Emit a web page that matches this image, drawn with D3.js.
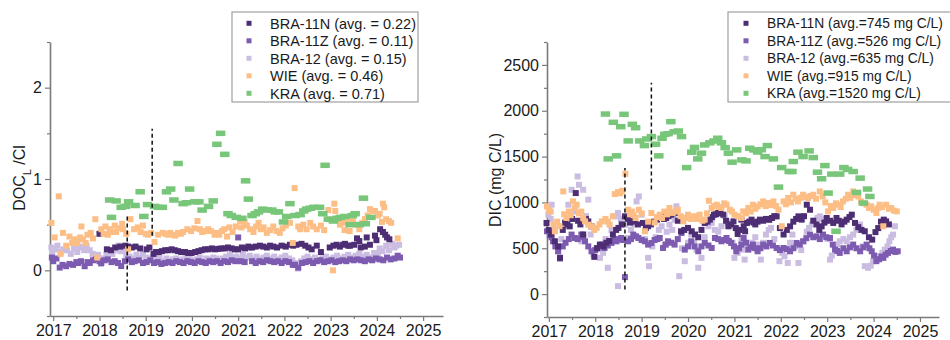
<!DOCTYPE html>
<html>
<head>
<meta charset="utf-8">
<script src="https://cdn.jsdelivr.net/npm/d3@7"></script>
<style>
  body { margin: 0; background: #fff; }
  svg { display: block; }
  text { font-family: Arial, "Liberation Sans", sans-serif; fill: #1a1a1a; }
</style>
</head>
<body>
<svg id="chart" width="950" height="340"></svg>
<script>
// ---- series names, colours, legend texts, ticks ----
const seriesNames = ["BRA-11N", "BRA-11Z", "BRA-12", "WIE", "KRA"];
const seriesColors = ["#4d2d73", "#7c5bb0", "#cbbde2", "#fdbe85", "#78c679"];
const docLegendLabels = ["BRA-11N (avg. = 0.22)", "BRA-11Z (avg. = 0.11)", "BRA-12 (avg. = 0.15)", "WIE (avg. = 0.46)", "KRA (avg. = 0.71)"];
const dicLegendLabels = ["BRA-11N (avg.=745 mg C/L)", "BRA-11Z (avg.=526 mg C/L)", "BRA-12 (avg.=635 mg C/L)", "WIE (avg.=915 mg C/L)", "KRA (avg.=1520 mg C/L)"];
const yearTicks = [2017, 2018, 2019, 2020, 2021, 2022, 2023, 2024, 2025];
const docTicks = [0, 1, 2];
const dicTicks = [0, 500, 1000, 1500, 2000, 2500];

// ---- DOC_L / Cl ratio, [decimal year, value] ----
const docN = [[2018.0,0.40],[2018.16,0.23],[2018.25,0.22],[2018.34,0.25],[2018.45,0.26],[2018.56,0.27],[2018.62,0.26],[2018.70,0.25],[2018.78,0.26],[2018.88,0.24],[2019.02,0.23],[2019.08,0.25],[2019.17,0.18],[2019.22,0.20],[2019.28,0.20],[2019.35,0.21],[2019.42,0.22],[2019.49,0.22],[2019.56,0.23],[2019.63,0.22],[2019.70,0.21],[2019.77,0.20],[2019.85,0.20],[2019.92,0.19],[2019.99,0.19],[2020.07,0.20],[2020.14,0.21],[2020.21,0.22],[2020.28,0.23],[2020.36,0.23],[2020.43,0.24],[2020.50,0.23],[2020.57,0.235],[2020.64,0.24],[2020.71,0.24],[2020.78,0.25],[2020.86,0.24],[2020.93,0.23],[2021.0,0.23],[2021.08,0.25],[2021.15,0.24],[2021.22,0.26],[2021.30,0.25],[2021.38,0.26],[2021.47,0.27],[2021.54,0.26],[2021.62,0.25],[2021.69,0.27],[2021.76,0.26],[2021.84,0.25],[2021.94,0.27],[2022.03,0.26],[2022.12,0.28],[2022.19,0.27],[2022.26,0.28],[2022.37,0.29],[2022.45,0.27],[2022.52,0.25],[2022.59,0.23],[2022.70,0.27],[2022.79,0.20],[2022.98,0.25],[2023.06,0.27],[2023.13,0.28],[2023.20,0.26],[2023.27,0.28],[2023.31,0.29],[2023.38,0.27],[2023.42,0.27],[2023.51,0.28],[2023.57,0.35],[2023.62,0.32],[2023.65,0.25],[2023.74,0.26],[2023.78,0.36],[2023.85,0.28],[2023.96,0.38],[2023.99,0.33],[2024.07,0.45],[2024.13,0.42],[2024.18,0.39],[2024.22,0.36],[2024.27,0.34]];
const docZ = [[2016.97,0.14],[2017.0,0.10],[2017.07,0.13],[2017.14,0.03],[2017.2,0.06],[2017.28,0.045],[2017.35,0.07],[2017.43,0.06],[2017.5,0.09],[2017.54,0.08],[2017.6,0.10],[2017.68,0.045],[2017.74,0.09],[2017.79,0.08],[2017.86,0.11],[2017.93,0.12],[2018.0,0.10],[2018.04,0.08],[2018.11,0.11],[2018.18,0.12],[2018.26,0.09],[2018.33,0.10],[2018.4,0.08],[2018.47,0.047],[2018.55,0.10],[2018.62,0.12],[2018.7,0.09],[2018.76,0.10],[2018.85,0.11],[2018.94,0.08],[2019.02,0.09],[2019.1,0.11],[2019.18,0.08],[2019.26,0.09],[2019.34,0.07],[2019.42,0.08],[2019.5,0.09],[2019.58,0.08],[2019.66,0.10],[2019.74,0.09],[2019.82,0.08],[2019.9,0.10],[2019.98,0.09],[2020.06,0.08],[2020.14,0.10],[2020.22,0.09],[2020.3,0.08],[2020.38,0.10],[2020.46,0.09],[2020.54,0.10],[2020.62,0.08],[2020.7,0.10],[2020.78,0.09],[2020.86,0.11],[2020.94,0.10],[2021.0,0.36],[2021.06,0.10],[2021.14,0.09],[2021.24,0.25],[2021.3,0.10],[2021.38,0.08],[2021.46,0.10],[2021.54,0.09],[2021.62,0.11],[2021.7,0.10],[2021.78,0.09],[2021.86,0.10],[2021.94,0.08],[2022.02,0.10],[2022.1,0.09],[2022.18,0.06],[2022.23,0.06],[2022.3,0.03],[2022.38,0.08],[2022.46,0.09],[2022.54,0.10],[2022.62,0.08],[2022.7,0.10],[2022.78,0.11],[2022.86,0.09],[2022.94,0.10],[2023.02,0.11],[2023.1,0.09],[2023.18,0.10],[2023.26,0.11],[2023.34,0.10],[2023.42,0.12],[2023.5,0.11],[2023.58,0.12],[2023.66,0.11],[2023.74,0.10],[2023.82,0.12],[2023.9,0.11],[2023.98,0.13],[2024.06,0.12],[2024.14,0.11],[2024.22,0.14],[2024.3,0.12],[2024.38,0.13],[2024.45,0.16],[2024.5,0.14]];
const docB12 = [[2016.96,0.25],[2016.98,0.20],[2017.05,0.23],[2017.09,0.27],[2017.16,0.20],[2017.22,0.23],[2017.30,0.22],[2017.38,0.18],[2017.45,0.24],[2017.52,0.20],[2017.57,0.26],[2017.61,0.25],[2017.67,0.22],[2017.72,0.27],[2017.79,0.22],[2017.85,0.18],[2017.9,0.13],[2017.97,0.17],[2018.03,0.07],[2018.08,0.13],[2018.15,0.17],[2018.22,0.20],[2018.28,0.18],[2018.33,0.22],[2018.41,0.27],[2018.46,0.21],[2018.52,0.22],[2018.58,0.17],[2018.65,0.15],[2018.72,0.13],[2018.8,0.17],[2018.87,0.14],[2018.94,0.18],[2019.01,0.14],[2019.08,0.13],[2019.16,0.15],[2019.23,0.12],[2019.30,0.14],[2019.37,0.10],[2019.45,0.13],[2019.52,0.10],[2019.59,0.12],[2019.66,0.13],[2019.74,0.11],[2019.81,0.12],[2019.88,0.14],[2019.95,0.13],[2020.02,0.11],[2020.1,0.12],[2020.17,0.14],[2020.24,0.10],[2020.31,0.13],[2020.38,0.12],[2020.46,0.14],[2020.53,0.13],[2020.6,0.11],[2020.67,0.13],[2020.74,0.15],[2020.82,0.17],[2020.89,0.14],[2020.96,0.15],[2021.03,0.13],[2021.1,0.17],[2021.17,0.14],[2021.25,0.16],[2021.32,0.13],[2021.4,0.15],[2021.47,0.12],[2021.55,0.14],[2021.62,0.16],[2021.7,0.13],[2021.78,0.15],[2021.86,0.12],[2021.94,0.14],[2022.02,0.16],[2022.1,0.13],[2022.17,0.11],[2022.24,0.08],[2022.29,0.02],[2022.36,0.10],[2022.43,0.13],[2022.5,0.15],[2022.58,0.12],[2022.66,0.14],[2022.74,0.11],[2022.82,0.13],[2022.9,0.15],[2022.98,0.12],[2023.06,0.14],[2023.14,0.16],[2023.22,0.13],[2023.3,0.15],[2023.38,0.17],[2023.46,0.14],[2023.54,0.16],[2023.62,0.18],[2023.7,0.15],[2023.78,0.17],[2023.86,0.14],[2023.94,0.19],[2024.02,0.18],[2024.06,0.24],[2024.12,0.21],[2024.2,0.27],[2024.26,0.22],[2024.33,0.29],[2024.38,0.25],[2024.42,0.27],[2024.48,0.28]];
const docWIE = [[2016.96,0.52],[2017.03,0.36],[2017.12,0.81],[2017.16,0.18],[2017.21,0.41],[2017.28,0.27],[2017.35,0.37],[2017.41,0.30],[2017.45,0.34],[2017.52,0.30],[2017.58,0.36],[2017.61,0.48],[2017.64,0.34],[2017.70,0.30],[2017.74,0.39],[2017.81,0.41],[2017.86,0.35],[2017.91,0.56],[2017.95,0.14],[2018.04,0.45],[2018.09,0.40],[2018.13,0.48],[2018.18,0.39],[2018.22,0.45],[2018.28,0.42],[2018.33,0.49],[2018.36,0.42],[2018.42,0.46],[2018.49,0.51],[2018.51,0.45],[2018.58,0.40],[2018.62,0.23],[2018.67,0.56],[2018.75,0.45],[2018.83,0.47],[2018.89,0.42],[2018.94,0.49],[2019.0,0.40],[2019.05,0.39],[2019.12,0.41],[2019.19,0.31],[2019.27,0.39],[2019.37,0.41],[2019.43,0.40],[2019.48,0.39],[2019.53,0.41],[2019.59,0.39],[2019.64,0.38],[2019.70,0.41],[2019.76,0.40],[2019.81,0.42],[2019.90,0.45],[2019.98,0.43],[2020.05,0.46],[2020.12,0.54],[2020.17,0.45],[2020.22,0.42],[2020.28,0.43],[2020.35,0.45],[2020.41,0.43],[2020.49,0.39],[2020.54,0.41],[2020.59,0.39],[2020.65,0.43],[2020.70,0.45],[2020.76,0.37],[2020.81,0.47],[2020.88,0.42],[2020.95,0.48],[2021.04,0.54],[2021.07,0.47],[2021.14,0.53],[2021.19,0.49],[2021.26,0.45],[2021.33,0.42],[2021.39,0.48],[2021.44,0.52],[2021.49,0.45],[2021.55,0.47],[2021.62,0.41],[2021.69,0.44],[2021.76,0.48],[2021.83,0.43],[2021.90,0.41],[2021.96,0.46],[2022.03,0.49],[2022.12,0.52],[2022.18,0.30],[2022.22,0.90],[2022.30,0.48],[2022.34,0.45],[2022.41,0.50],[2022.48,0.45],[2022.56,0.52],[2022.62,0.48],[2022.70,0.45],[2022.79,0.49],[2022.86,0.44],[2022.95,0.66],[2022.97,0.56],[2023.05,0.0],[2023.08,0.73],[2023.10,0.65],[2023.14,0.56],[2023.20,0.50],[2023.25,0.52],[2023.30,0.44],[2023.35,0.54],[2023.41,0.43],[2023.48,0.54],[2023.55,0.50],[2023.62,0.45],[2023.68,0.52],[2023.74,0.56],[2023.80,0.60],[2023.85,0.67],[2023.91,0.65],[2023.96,0.65],[2024.02,0.60],[2024.06,0.62],[2024.11,0.53],[2024.13,0.73],[2024.16,0.69],[2024.20,0.56],[2024.26,0.54],[2024.31,0.52],[2024.45,0.35]];
const docKRA = [[2018.22,0.77],[2018.26,0.58],[2018.36,0.76],[2018.47,0.69],[2018.56,0.70],[2018.63,0.75],[2018.77,0.71],[2018.88,0.86],[2018.96,0.59],[2019.04,0.72],[2019.19,0.70],[2019.28,0.69],[2019.36,0.69],[2019.45,0.86],[2019.54,0.89],[2019.61,0.77],[2019.70,1.17],[2019.81,0.73],[2019.88,0.74],[2019.95,0.89],[2020.06,0.75],[2020.15,0.75],[2020.22,0.66],[2020.36,0.70],[2020.46,0.76],[2020.54,1.38],[2020.62,1.50],[2020.71,1.27],[2020.78,0.62],[2020.85,0.60],[2020.96,0.58],[2021.08,0.57],[2021.16,0.98],[2021.22,0.78],[2021.30,0.60],[2021.37,0.62],[2021.44,0.64],[2021.53,0.67],[2021.63,0.66],[2021.73,0.66],[2021.80,0.64],[2021.87,0.64],[2021.98,0.53],[2022.05,0.59],[2022.12,0.73],[2022.23,0.60],[2022.34,0.61],[2022.42,0.65],[2022.48,0.67],[2022.56,0.68],[2022.64,0.69],[2022.76,0.69],[2022.83,0.62],[2022.88,1.15],[2022.95,0.56],[2023.06,0.54],[2023.14,0.57],[2023.21,0.58],[2023.31,0.59],[2023.42,0.50],[2023.47,0.60],[2023.53,0.62],[2023.62,0.50],[2023.71,0.79],[2023.75,0.51],[2023.87,0.58]];

// ---- DIC (mg C/L), [decimal year, value] ----
const dicN = [[2016.95,776],[2017.0,700],[2017.05,650],[2017.13,576],[2017.2,520],[2017.24,396],[2017.3,700],[2017.35,780],[2017.4,760],[2017.45,739],[2017.5,820],[2017.58,1102],[2017.63,800],[2017.68,760],[2017.74,650],[2017.8,820],[2017.85,793],[2017.92,739],[2017.98,406],[2018.04,500],[2018.1,540],[2018.18,520],[2018.24,560],[2018.3,580],[2018.38,650],[2018.45,700],[2018.5,722],[2018.57,760],[2018.64,848],[2018.7,820],[2018.75,780],[2018.8,800],[2018.85,790],[2018.92,760],[2019.03,776],[2019.09,720],[2019.14,740],[2019.2,760],[2019.27,790],[2019.33,812],[2019.38,830],[2019.43,848],[2019.48,820],[2019.53,830],[2019.58,850],[2019.64,866],[2019.68,880],[2019.72,885],[2019.78,800],[2019.85,685],[2019.92,700],[2020.0,722],[2020.08,685],[2020.15,650],[2020.22,620],[2020.29,700],[2020.36,776],[2020.42,790],[2020.47,812],[2020.52,840],[2020.56,866],[2020.6,870],[2020.65,885],[2020.7,880],[2020.76,866],[2020.82,800],[2020.87,740],[2020.93,760],[2020.98,793],[2021.03,720],[2021.07,656],[2021.11,700],[2021.15,812],[2021.2,740],[2021.23,685],[2021.27,776],[2021.32,790],[2021.37,812],[2021.42,780],[2021.45,760],[2021.5,790],[2021.55,812],[2021.62,800],[2021.68,820],[2021.75,810],[2021.81,830],[2021.86,850],[2021.91,848],[2021.98,720],[2022.06,650],[2022.13,700],[2022.2,739],[2022.27,790],[2022.33,820],[2022.38,848],[2022.45,812],[2022.5,850],[2022.56,975],[2022.63,920],[2022.7,800],[2022.77,760],[2022.83,700],[2022.88,739],[2022.94,780],[2022.99,830],[2023.06,800],[2023.13,776],[2023.2,830],[2023.25,800],[2023.31,760],[2023.37,790],[2023.42,812],[2023.48,840],[2023.53,866],[2023.6,776],[2023.67,730],[2023.74,700],[2023.81,685],[2023.9,620],[2023.97,594],[2024.04,676],[2024.1,720],[2024.16,790],[2024.22,812],[2024.27,793],[2024.33,760]];
const dicZ = [[2016.96,685],[2017.02,640],[2017.06,620],[2017.09,576],[2017.14,520],[2017.2,467],[2017.24,388],[2017.3,520],[2017.36,560],[2017.43,600],[2017.49,649],[2017.56,612],[2017.62,600],[2017.7,649],[2017.74,620],[2017.78,576],[2017.85,520],[2017.92,467],[2018.0,480],[2018.05,500],[2018.1,522],[2018.15,540],[2018.2,503],[2018.27,530],[2018.35,558],[2018.41,590],[2018.46,576],[2018.51,600],[2018.56,612],[2018.6,590],[2018.64,185],[2018.71,576],[2018.77,600],[2018.82,649],[2018.88,630],[2018.93,612],[2019.0,590],[2019.07,576],[2019.14,540],[2019.21,558],[2019.28,590],[2019.34,600],[2019.39,612],[2019.46,503],[2019.52,540],[2019.57,576],[2019.64,560],[2019.71,540],[2019.78,600],[2019.86,667],[2019.93,485],[2020.0,520],[2020.07,576],[2020.14,520],[2020.22,467],[2020.29,520],[2020.36,558],[2020.44,530],[2020.51,503],[2020.58,612],[2020.65,600],[2020.72,576],[2020.78,590],[2020.83,612],[2020.88,580],[2020.93,558],[2020.99,520],[2021.04,467],[2021.1,500],[2021.15,540],[2021.2,612],[2021.25,560],[2021.3,485],[2021.35,510],[2021.4,540],[2021.45,500],[2021.5,467],[2021.56,500],[2021.62,540],[2021.69,520],[2021.76,558],[2021.83,530],[2021.91,503],[2021.98,480],[2022.06,503],[2022.13,490],[2022.2,467],[2022.27,500],[2022.34,558],[2022.41,540],[2022.48,576],[2022.55,610],[2022.63,649],[2022.7,620],[2022.77,630],[2022.84,600],[2022.91,649],[2022.98,620],[2023.06,612],[2023.12,540],[2023.17,485],[2023.22,470],[2023.27,449],[2023.35,500],[2023.42,467],[2023.49,510],[2023.56,540],[2023.63,500],[2023.71,467],[2023.78,510],[2023.85,540],[2023.91,500],[2023.96,467],[2024.01,420],[2024.06,359],[2024.12,380],[2024.17,410],[2024.21,395],[2024.26,430],[2024.31,449],[2024.37,470],[2024.42,485],[2024.47,460],[2024.52,467]];
const dicB12 = [[2016.99,866],[2017.04,820],[2017.06,975],[2017.12,700],[2017.2,467],[2017.27,600],[2017.35,740],[2017.42,975],[2017.49,1138],[2017.55,900],[2017.62,1283],[2017.65,1192],[2017.7,576],[2017.74,1138],[2017.8,850],[2017.85,1030],[2017.9,650],[2017.96,431],[2018.03,503],[2018.1,395],[2018.17,450],[2018.22,600],[2018.27,287],[2018.35,700],[2018.42,848],[2018.49,885],[2018.49,87],[2018.55,820],[2018.64,757],[2018.71,612],[2018.77,700],[2018.84,760],[2018.89,1011],[2018.94,1065],[2019.0,866],[2019.07,600],[2019.14,395],[2019.16,305],[2019.23,520],[2019.3,620],[2019.37,700],[2019.43,740],[2019.5,540],[2019.54,680],[2019.6,758],[2019.66,700],[2019.71,812],[2019.75,957],[2019.81,195],[2019.87,500],[2019.93,359],[2020.0,560],[2020.07,649],[2020.13,560],[2020.18,485],[2020.22,287],[2020.29,395],[2020.36,620],[2020.44,740],[2020.51,776],[2020.58,700],[2020.65,680],[2020.72,740],[2020.79,850],[2020.85,780],[2020.9,740],[2020.96,560],[2021.0,395],[2021.07,450],[2021.15,594],[2021.18,485],[2021.22,376],[2021.3,500],[2021.38,560],[2021.45,620],[2021.52,540],[2021.57,376],[2021.62,560],[2021.68,649],[2021.74,700],[2021.79,722],[2021.86,600],[2021.92,500],[2021.97,359],[2022.03,450],[2022.08,413],[2022.15,340],[2022.2,560],[2022.25,649],[2022.31,520],[2022.38,340],[2022.44,480],[2022.5,576],[2022.56,680],[2022.61,722],[2022.67,760],[2022.73,800],[2022.79,830],[2022.84,848],[2022.9,820],[2022.95,793],[2023.01,600],[2023.06,376],[2023.1,420],[2023.17,503],[2023.22,540],[2023.27,576],[2023.35,600],[2023.42,576],[2023.49,620],[2023.56,649],[2023.63,700],[2023.71,758],[2023.76,520],[2023.81,305],[2023.88,287],[2023.94,310],[2023.99,359],[2024.06,380],[2024.13,413],[2024.19,450],[2024.24,485],[2024.3,520],[2024.34,576],[2024.38,620],[2024.42,649],[2024.46,740]];
const dicWIE = [[2016.96,957],[2017.0,920],[2017.04,900],[2017.10,758],[2017.13,685],[2017.18,790],[2017.23,740],[2017.31,1120],[2017.33,870],[2017.38,830],[2017.43,900],[2017.47,860],[2017.52,1011],[2017.56,940],[2017.6,975],[2017.65,880],[2017.7,900],[2017.74,830],[2017.78,793],[2017.85,758],[2017.92,740],[2017.98,700],[2018.03,722],[2018.09,760],[2018.14,793],[2018.22,820],[2018.27,790],[2018.31,758],[2018.38,850],[2018.42,1091],[2018.49,1113],[2018.54,1100],[2018.58,1127],[2018.65,1312],[2018.71,920],[2018.75,870],[2018.79,900],[2018.83,860],[2018.87,830],[2018.94,920],[2019.0,880],[2019.07,685],[2019.14,790],[2019.21,885],[2019.28,780],[2019.33,840],[2019.39,866],[2019.44,830],[2019.49,900],[2019.55,870],[2019.6,939],[2019.67,885],[2019.73,900],[2019.78,920],[2019.84,850],[2019.9,793],[2019.95,830],[2020.0,866],[2020.06,820],[2020.13,850],[2020.19,820],[2020.25,866],[2020.31,800],[2020.36,812],[2020.41,880],[2020.45,1018],[2020.51,939],[2020.56,960],[2020.62,975],[2020.67,950],[2020.72,939],[2020.78,990],[2020.83,975],[2020.9,920],[2020.95,900],[2021.0,866],[2021.08,850],[2021.15,830],[2021.19,902],[2021.25,880],[2021.3,939],[2021.35,900],[2021.4,975],[2021.45,930],[2021.5,957],[2021.56,980],[2021.62,1011],[2021.67,960],[2021.73,993],[2021.78,970],[2021.84,1011],[2021.9,960],[2021.95,920],[2022.02,740],[2022.06,1011],[2022.11,980],[2022.16,1048],[2022.22,1000],[2022.27,1084],[2022.32,1040],[2022.37,1011],[2022.43,1050],[2022.48,1084],[2022.54,1060],[2022.59,1048],[2022.64,1070],[2022.7,1084],[2022.76,1040],[2022.84,1120],[2022.9,1065],[2022.96,1000],[2023.02,902],[2023.08,960],[2023.13,939],[2023.19,990],[2023.24,975],[2023.29,950],[2023.34,1011],[2023.4,1040],[2023.45,1084],[2023.5,1050],[2023.56,1120],[2023.62,1080],[2023.67,1065],[2023.73,1010],[2023.79,990],[2023.85,975],[2023.9,940],[2023.95,957],[2024.0,920],[2024.06,885],[2024.1,940],[2024.13,975],[2024.18,950],[2024.21,740],[2024.27,975],[2024.33,930],[2024.38,939],[2024.44,910],[2024.5,902]];
const dicKRA = [[2018.22,1964],[2018.28,1475],[2018.39,1874],[2018.46,1508],[2018.55,1826],[2018.62,1961],[2018.71,1671],[2018.80,1852],[2018.87,1815],[2018.96,1671],[2019.06,1620],[2019.11,1692],[2019.21,1718],[2019.30,1635],[2019.37,1508],[2019.44,1700],[2019.50,1743],[2019.57,1750],[2019.63,1881],[2019.70,1770],[2019.79,1779],[2019.86,1718],[2019.97,1380],[2020.08,1548],[2020.14,1600],[2020.21,1475],[2020.29,1537],[2020.36,1627],[2020.47,1650],[2020.56,1670],[2020.64,1700],[2020.72,1650],[2020.80,1598],[2020.87,1537],[2020.95,1439],[2021.05,1573],[2021.16,1464],[2021.25,1453],[2021.33,1591],[2021.42,1573],[2021.50,1550],[2021.58,1575],[2021.66,1500],[2021.71,1620],[2021.84,1475],[2021.95,1167],[2022.02,1380],[2022.18,1337],[2022.24,1337],[2022.27,1446],[2022.37,1548],[2022.48,1500],[2022.61,1562],[2022.70,1489],[2022.79,1330],[2022.88,1258],[2022.95,1402],[2023.02,1102],[2023.10,1309],[2023.19,685],[2023.27,1309],[2023.36,1380],[2023.44,1360],[2023.56,1337],[2023.63,1109],[2023.71,1265],[2023.78,993],[2023.87,1146],[2023.92,1065]];

// ---- sampling-change markers: [year, from value, to value] ----
const docEventLines = [[2018.6, -0.22, 0.6], [2019.14, 0.38, 1.55]];
const dicEventLines = [[2018.64, 50, 1375], [2019.21, 1140, 2305]];

const svg = d3.select("#chart");
const axisColor = "#7a7a7a";

function drawPanel(cfg) {
  const g = svg.append("g");
  const x = d3.scaleLinear().domain(cfg.xDomain).range(cfg.xRange);
  const y = d3.scaleLinear().domain(cfg.yDomain).range(cfg.yRange);

  // minor ticks (half years / half steps)
  const xMinor = yearTicks.slice(0, -1).map(t => t + 0.5);
  g.append("g")
    .attr("transform", `translate(0,${cfg.yRange[0]})`)
    .call(d3.axisBottom(x).tickValues(xMinor).tickSize(3).tickFormat(""))
    .call(a => a.select(".domain").remove())
    .call(a => a.selectAll("line").attr("stroke", axisColor).attr("stroke-width", 1.2));
  g.append("g")
    .attr("transform", `translate(${cfg.xRange[0]},0)`)
    .call(d3.axisLeft(y).tickValues(cfg.yMinor).tickSize(3).tickFormat(""))
    .call(a => a.select(".domain").remove())
    .call(a => a.selectAll("line").attr("stroke", axisColor).attr("stroke-width", 1.2));

  // major axes
  const xAxis = g.append("g")
    .attr("transform", `translate(0,${cfg.yRange[0]})`)
    .call(d3.axisBottom(x).tickValues(yearTicks).tickSize(5).tickSizeOuter(0).tickPadding(4).tickFormat(d3.format("d")));
  const yAxis = g.append("g")
    .attr("transform", `translate(${cfg.xRange[0]},0)`)
    .call(d3.axisLeft(y).tickValues(cfg.yTicks).tickSize(5).tickSizeOuter(0).tickPadding(3).tickFormat(d3.format("d")));
  [xAxis, yAxis].forEach(a => {
    a.select(".domain").attr("stroke", axisColor).attr("stroke-width", 1.6);
    a.selectAll(".tick line").attr("stroke", axisColor).attr("stroke-width", 1.2);
    a.selectAll(".tick text").attr("font-size", 16).attr("fill", "#1a1a1a")
      .style("font-family", "Arial, 'Liberation Sans', sans-serif");
  });

  // scatter points, one layer per station
  const order = [2, 1, 0, 3, 4];
  order.forEach(i => {
    const w = i === 4 ? 9.5 : 6, h = i === 4 ? 5.5 : 6;
    g.append("g").selectAll("rect")
      .data(cfg.data[i])
      .join("rect")
      .attr("x", d => x(d[0]) - w / 2)
      .attr("y", d => y(d[1]) - h / 2)
      .attr("width", w)
      .attr("height", h)
      .attr("fill", seriesColors[i]);
  });

  // dashed event lines
  g.append("g").selectAll("line")
    .data(cfg.events)
    .join("line")
    .attr("x1", d => x(d[0])).attr("x2", d => x(d[0]))
    .attr("y1", d => y(d[1])).attr("y2", d => y(d[2]))
    .attr("stroke", "#111").attr("stroke-width", 1.5)
    .attr("stroke-dasharray", "4,3");

  // y-axis title
  const title = g.append("text")
    .attr("transform", `translate(${cfg.titleX},${cfg.titleY}) rotate(-90)`)
    .attr("text-anchor", "middle")
    .attr("font-size", 16);
  cfg.title(title);

  // legend
  const lg = g.append("g");
  lg.append("rect")
    .attr("x", cfg.legend.x).attr("y", cfg.legend.y)
    .attr("width", cfg.legend.w).attr("height", cfg.legend.h)
    .attr("fill", "#fff").attr("stroke", "#a0a0a0").attr("stroke-width", 1.2);
  const rows = lg.selectAll("g.row")
    .data(cfg.legend.labels)
    .join("g")
    .attr("transform", (d, i) => `translate(${cfg.legend.x},${cfg.legend.y + 11.3 + i * 17.5})`);
  rows.append("rect")
    .attr("x", cfg.legend.markerX - 2.5).attr("y", -2.5)
    .attr("width", 5).attr("height", 5)
    .attr("fill", (d, i) => seriesColors[i]);
  rows.append("text")
    .attr("x", cfg.legend.textX)
    .attr("dy", "0.36em")
    .attr("font-size", cfg.legend.fontSize)
    .text(d => d);
}

drawPanel({
  xDomain: [2016.93, 2025.43], xRange: [50, 443],
  yDomain: [-0.5, 2.5], yRange: [316, 42],
  yTicks: docTicks, yMinor: [-0.5, 0.5, 1.5, 2.5],
  data: [docN, docZ, docB12, docWIE, docKRA],
  events: docEventLines,
  titleX: 25, titleY: 178,
  title: t => {
    t.append("tspan").text("DOC");
    t.append("tspan").attr("font-size", 11).attr("baseline-shift", "sub").text("L");
    t.append("tspan").text(" /Cl");
  },
  legend: { x: 232, y: 12, w: 186, h: 90, markerX: 17, textX: 38, fontSize: 14.5, labels: docLegendLabels }
});

drawPanel({
  xDomain: [2016.96, 2025.41], xRange: [547, 939],
  yDomain: [-250, 2750], yRange: [317, 42],
  yTicks: dicTicks, yMinor: [-250, 250, 750, 1250, 1750, 2250, 2750],
  data: [dicN, dicZ, dicB12, dicWIE, dicKRA],
  events: dicEventLines,
  titleX: 501, titleY: 180,
  title: t => t.text("DIC (mg C/L)"),
  legend: { x: 728, y: 12, w: 240, h: 90, markerX: 18, textX: 39, fontSize: 13.8, labels: dicLegendLabels }
});
</script>
</body>
</html>
